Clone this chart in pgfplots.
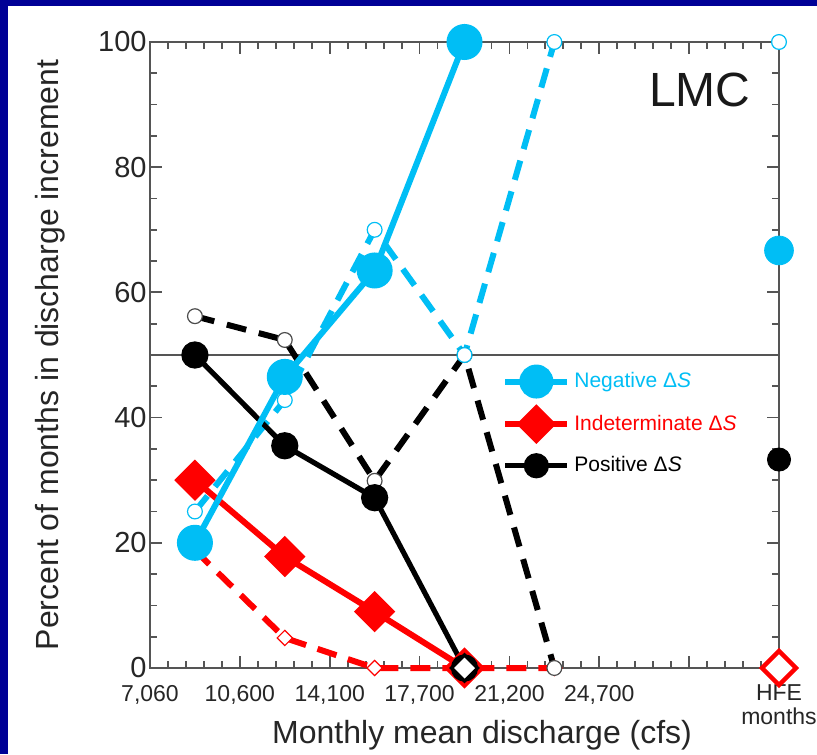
\documentclass[border=0pt]{standalone}
\usepackage{fontspec}
\setmainfont{Liberation Sans}
\usepackage{pgfplots}
\pgfplotsset{compat=1.18}
\definecolor{navy}{RGB}{0,0,150}
\definecolor{cy}{RGB}{0,190,245}
\definecolor{rd}{RGB}{255,0,0}
\definecolor{axc}{RGB}{85,85,85}
\begin{document}
\begin{tikzpicture}
\fill[navy] (-75pt,-43pt) rectangle (333.5pt,334pt);
\fill[white] (-71pt,-43pt) rectangle (333.5pt,331pt);
\begin{axis}[
  at={(0,0)}, anchor=south west,
  width=314.5pt, height=313pt, scale only axis,
  xmin=0, xmax=7, ymin=0, ymax=100,
  clip=false,
  axis line style={axc, line width=1pt},
  tick style={axc, line width=0.9pt},
  tick align=inside,
  major tick length=6pt, minor tick length=3.5pt,
  xtick={0,...,7},
  xticklabels={{7,060},{10,600},{14,100},{17,700},{21,200},{24,700},{},{HFE\\months}},
  minor x tick num=4,
  ytick={0,20,...,100},
  minor y tick num=3,
  /pgf/number format/assume math mode=true,
  xticklabel style={font=\fontsize{11.5}{12}\selectfont, align=center, yshift=-5pt, text=black!85},
  yticklabel style={font=\fontsize{14.5}{15}\selectfont, inner sep=1.5pt, text=black!85},
  xlabel={Monthly mean discharge (cfs)},
  ylabel={Percent of months in discharge increment},
  label style={font=\fontsize{16}{18}\selectfont, text=black!85},
  xlabel style={at={(axis description cs:0.528,-0.108)}, anchor=center},
  ylabel style={at={(axis description cs:-0.159,0.5)}, anchor=center},
  legend style={at={(axis description cs:0.55,0.487)}, anchor=north west, draw=none, fill=none,
    font=\fontsize{10.5}{12}\selectfont, row sep=6.5pt, cells={anchor=west}},
  legend image code/.code={\draw[mark repeat=2, mark phase=2] plot coordinates {(0pt,0pt) (15.5pt,0pt) (31pt,0pt)};},
]
\addlegendimage{cy, line width=3pt, mark=*, mark size=7pt}
\addlegendentry{\textcolor{cy}{Negative Δ{\itshape S}}}
\addlegendimage{rd, line width=3pt, mark=square*, mark options={rotate=45}, mark size=5.5pt}
\addlegendentry{\textcolor{rd}{Indeterminate Δ{\itshape S}}}
\addlegendimage{black, line width=2.6pt, mark=*, mark size=5pt}
\addlegendentry{Positive Δ{\itshape S}}

% reference line at 50 %
\addplot[forget plot, color=axc, line width=1pt] coordinates {(0,50) (7,50)};

% dashed series
\addplot[forget plot, rd, line width=3pt, dash pattern=on 10pt off 6pt,
  mark=square*, mark size=2.7pt, mark options={solid, rotate=45, fill=white, draw=rd, line width=0.6pt}]
  coordinates {(0.5,18.8) (1.5,4.8) (2.5,0) (3.5,0) (4.5,0)};
\addplot[forget plot, black, line width=3pt, dash pattern=on 10pt off 6.5pt,
  mark=*, mark size=3.7pt, mark options={solid, fill=white, draw=black!70, line width=0.6pt}]
  coordinates {(0.5,56.2) (1.5,52.4) (2.5,29.9) (3.5,50) (4.5,0)};
\addplot[forget plot, cy, line width=3pt, dash pattern=on 10pt off 6pt,
  mark=*, mark size=3.7pt, mark options={solid, fill=white, draw=cy, line width=0.6pt}]
  coordinates {(0.5,25) (1.5,42.8) (2.5,70) (3.5,50) (4.5,100)};

% solid series
\addplot[forget plot, rd, line width=3pt, mark=square*, mark size=5.8pt, mark options={rotate=45}]
  coordinates {(0.5,30) (1.5,17.8) (2.5,9) (3.5,0)};
\addplot[forget plot, black, line width=2.6pt, mark=*, mark size=5.5pt]
  coordinates {(0.5,50) (1.5,35.5) (2.5,27.2) (3.5,0)};
\addplot[forget plot, cy, line width=3pt, mark=*, mark size=7.5pt]
  coordinates {(0.5,20) (1.5,46.5) (2.5,63.5) (3.5,100)};

% overlap marker
\addplot[forget plot, only marks, mark=square*, mark size=4.6pt,
  mark options={rotate=45, fill=white, draw=black, line width=1.6pt}]
  coordinates {(3.5,0)};

% HFE months
\addplot[forget plot, only marks, mark=*, mark size=7.2pt, cy] coordinates {(7,66.7)};
\addplot[forget plot, only marks, mark=*, mark size=5.8pt, black] coordinates {(7,33.3)};
\addplot[forget plot, only marks, mark=*, mark size=3.7pt, mark options={fill=white, draw=cy, line width=0.6pt}] coordinates {(7,100)};
\addplot[forget plot, only marks, mark=square*, mark size=6pt,
  mark options={rotate=45, fill=white, draw=rd, line width=2.2pt}] coordinates {(7,0)};

\node[font=\fontsize{24}{26}\selectfont, text=black!90] at (axis description cs:0.874,0.923) {LMC};
\end{axis}
\pgfresetboundingbox
\path[use as bounding box] (-75pt,-43pt) rectangle (333.5pt,334pt);
\end{tikzpicture}
\end{document}
